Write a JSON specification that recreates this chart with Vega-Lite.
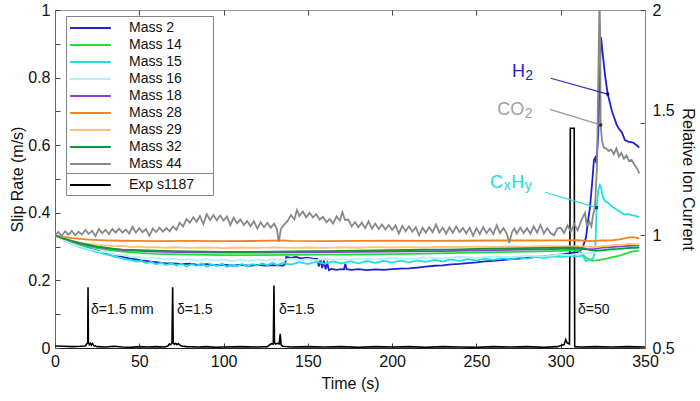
{
  "$schema": "https://vega.github.io/schema/vega-lite/v6.json",
  "width": 590,
  "height": 338,
  "autosize": {"type": "none"},
  "padding": {"left": 55, "top": 10, "right": 55, "bottom": 53},
  "background": "white",
  "config": {
    "font": "Liberation Sans",
    "view": {"stroke": "#999999", "strokeWidth": 1},
    "axis": {
      "grid": false,
      "labelFont": "Liberation Sans",
      "titleFont": "Liberation Sans",
      "labelFontSize": 16,
      "titleFontSize": 16,
      "titleFontWeight": "normal",
      "labelColor": "#111111",
      "titleColor": "#111111",
      "tickColor": "#444444",
      "domainColor": "#555555",
      "tickSize": -5,
      "labelPadding": 10,
      "labelFlush": false
    }
  },
  "datasets": {
    "slip": [
      {"t":0,"v":0.006},{"t":5,"v":0.005},{"t":10,"v":0.004},{"t":15,"v":0.005},{"t":18,"v":0.006},{"t":18.8,"v":0.012},{"t":19.4,"v":0.015},{"t":19.6,"v":0.18},{"t":19.8,"v":0.016},{"t":20.4,"v":0.01},{"t":21,"v":0.014},{"t":21.6,"v":0.009},{"t":22.2,"v":0.013},{"t":23,"v":0.007},{"t":25,"v":0.004},{"t":30,"v":0.003},{"t":35,"v":0.005},{"t":40,"v":0.003},{"t":45,"v":0.002},{"t":50,"v":0.004},{"t":55,"v":0.003},{"t":60,"v":0.004},{"t":65,"v":0.003},{"t":67,"v":0.006},{"t":67.8,"v":0.012},{"t":68.6,"v":0.01},{"t":69.4,"v":0.014},{"t":69.8,"v":0.18},{"t":70.1,"v":0.015},{"t":70.8,"v":0.011},{"t":71.6,"v":0.014},{"t":72.4,"v":0.01},{"t":73.2,"v":0.013},{"t":74,"v":0.009},{"t":75,"v":0.006},{"t":78,"v":0.004},{"t":85,"v":0.003},{"t":90,"v":0.004},{"t":95,"v":0.002},{"t":100,"v":0.003},{"t":110,"v":0.004},{"t":120,"v":0.003},{"t":126,"v":0.004},{"t":127.5,"v":0.01},{"t":128.5,"v":0.013},{"t":129.5,"v":0.012},{"t":129.9,"v":0.185},{"t":130.2,"v":0.016},{"t":131,"v":0.012},{"t":132,"v":0.014},{"t":133,"v":0.012},{"t":133.6,"v":0.042},{"t":134.1,"v":0.01},{"t":135,"v":0.005},{"t":140,"v":0.003},{"t":150,"v":0.004},{"t":160,"v":0.003},{"t":170,"v":0.004},{"t":180,"v":0.002},{"t":190,"v":0.004},{"t":200,"v":0.003},{"t":210,"v":0.004},{"t":220,"v":0.002},{"t":230,"v":0.004},{"t":240,"v":0.003},{"t":250,"v":0.002},{"t":260,"v":0.004},{"t":270,"v":0.003},{"t":280,"v":0.004},{"t":290,"v":0.002},{"t":298,"v":0.004},{"t":302,"v":0.01},{"t":303,"v":0.025},{"t":303.8,"v":0.015},{"t":305.2,"v":0.012},{"t":305.7,"v":0.65},{"t":308.0,"v":0.65},{"t":308.3,"v":0.004},{"t":312,"v":0.003},{"t":320,"v":0.004},{"t":330,"v":0.003},{"t":340,"v":0.004},{"t":350,"v":0.003}
    ],
    "deltas": [
      {"t":21.4,"v":0.112,"txt":"δ=1.5 mm"},
      {"t":72.4,"v":0.112,"txt":"δ=1.5"},
      {"t":132.9,"v":0.112,"txt":"δ=1.5"},
      {"t":310.3,"v":0.112,"txt":"δ=50"}
    ],
    "ion": [
      {"t":0,"s":"Mass 2","v":1.0},{"t":3,"s":"Mass 2","v":0.99},{"t":6,"s":"Mass 2","v":0.98},{"t":9,"s":"Mass 2","v":0.97},{"t":12,"s":"Mass 2","v":0.962},{"t":15,"s":"Mass 2","v":0.955},{"t":18,"s":"Mass 2","v":0.948},{"t":21,"s":"Mass 2","v":0.94},{"t":24,"s":"Mass 2","v":0.934},{"t":27,"s":"Mass 2","v":0.928},{"t":30,"s":"Mass 2","v":0.922},{"t":33,"s":"Mass 2","v":0.917},{"t":36,"s":"Mass 2","v":0.911},{"t":39,"s":"Mass 2","v":0.907},{"t":42,"s":"Mass 2","v":0.901},{"t":45,"s":"Mass 2","v":0.897},{"t":48,"s":"Mass 2","v":0.893},{"t":51,"s":"Mass 2","v":0.889},{"t":54,"s":"Mass 2","v":0.887},{"t":57,"s":"Mass 2","v":0.883},{"t":60,"s":"Mass 2","v":0.881},{"t":65,"s":"Mass 2","v":0.877},{"t":70,"s":"Mass 2","v":0.875},{"t":75,"s":"Mass 2","v":0.872},{"t":80,"s":"Mass 2","v":0.874},{"t":85,"s":"Mass 2","v":0.869},{"t":90,"s":"Mass 2","v":0.872},{"t":95,"s":"Mass 2","v":0.868},{"t":100,"s":"Mass 2","v":0.87},{"t":105,"s":"Mass 2","v":0.866},{"t":110,"s":"Mass 2","v":0.869},{"t":115,"s":"Mass 2","v":0.865},{"t":120,"s":"Mass 2","v":0.869},{"t":125,"s":"Mass 2","v":0.866},{"t":130,"s":"Mass 2","v":0.868},{"t":135,"s":"Mass 2","v":0.866},{"t":136.5,"s":"Mass 2","v":0.871},{"t":137.2,"s":"Mass 2","v":0.905},{"t":140,"s":"Mass 2","v":0.9},{"t":143,"s":"Mass 2","v":0.904},{"t":146,"s":"Mass 2","v":0.898},{"t":150,"s":"Mass 2","v":0.901},{"t":153,"s":"Mass 2","v":0.897},{"t":155.5,"s":"Mass 2","v":0.896},{"t":156.5,"s":"Mass 2","v":0.862},{"t":157.5,"s":"Mass 2","v":0.893},{"t":158.5,"s":"Mass 2","v":0.855},{"t":159.5,"s":"Mass 2","v":0.888},{"t":160.5,"s":"Mass 2","v":0.85},{"t":161.5,"s":"Mass 2","v":0.876},{"t":162.5,"s":"Mass 2","v":0.845},{"t":164,"s":"Mass 2","v":0.851},{"t":167,"s":"Mass 2","v":0.847},{"t":170,"s":"Mass 2","v":0.85},{"t":171.5,"s":"Mass 2","v":0.849},{"t":172.2,"s":"Mass 2","v":0.874},{"t":173,"s":"Mass 2","v":0.85},{"t":176,"s":"Mass 2","v":0.847},{"t":180,"s":"Mass 2","v":0.85},{"t":185,"s":"Mass 2","v":0.846},{"t":190,"s":"Mass 2","v":0.849},{"t":195,"s":"Mass 2","v":0.847},{"t":200,"s":"Mass 2","v":0.85},{"t":205,"s":"Mass 2","v":0.852},{"t":210,"s":"Mass 2","v":0.853},{"t":215,"s":"Mass 2","v":0.857},{"t":220,"s":"Mass 2","v":0.861},{"t":225,"s":"Mass 2","v":0.865},{"t":230,"s":"Mass 2","v":0.867},{"t":235,"s":"Mass 2","v":0.871},{"t":240,"s":"Mass 2","v":0.873},{"t":245,"s":"Mass 2","v":0.877},{"t":250,"s":"Mass 2","v":0.88},{"t":255,"s":"Mass 2","v":0.884},{"t":260,"s":"Mass 2","v":0.887},{"t":265,"s":"Mass 2","v":0.89},{"t":270,"s":"Mass 2","v":0.894},{"t":275,"s":"Mass 2","v":0.897},{"t":280,"s":"Mass 2","v":0.9},{"t":285,"s":"Mass 2","v":0.904},{"t":290,"s":"Mass 2","v":0.907},{"t":295,"s":"Mass 2","v":0.911},{"t":300,"s":"Mass 2","v":0.915},{"t":305,"s":"Mass 2","v":0.92},{"t":310,"s":"Mass 2","v":0.925},{"t":312,"s":"Mass 2","v":0.935},{"t":313.2,"s":"Mass 2","v":0.95},{"t":315,"s":"Mass 2","v":0.99},{"t":316.5,"s":"Mass 2","v":1.08},{"t":317.4,"s":"Mass 2","v":1.126},{"t":318.5,"s":"Mass 2","v":1.22},{"t":319.7,"s":"Mass 2","v":1.334},{"t":320.5,"s":"Mass 2","v":1.345},{"t":321.2,"s":"Mass 2","v":1.32},{"t":322.3,"s":"Mass 2","v":1.45},{"t":323.1,"s":"Mass 2","v":1.72},{"t":323.9,"s":"Mass 2","v":1.88},{"t":325,"s":"Mass 2","v":1.8},{"t":326.3,"s":"Mass 2","v":1.71},{"t":327.9,"s":"Mass 2","v":1.627},{"t":330.2,"s":"Mass 2","v":1.556},{"t":333.2,"s":"Mass 2","v":1.49},{"t":334.8,"s":"Mass 2","v":1.47},{"t":336.4,"s":"Mass 2","v":1.455},{"t":338.1,"s":"Mass 2","v":1.423},{"t":340,"s":"Mass 2","v":1.416},{"t":343,"s":"Mass 2","v":1.412},{"t":345,"s":"Mass 2","v":1.4},{"t":346.6,"s":"Mass 2","v":1.39},
      {"t":0,"s":"Mass 14","v":1.0},{"t":5,"s":"Mass 14","v":0.982},{"t":10,"s":"Mass 14","v":0.968},{"t":15,"s":"Mass 14","v":0.958},{"t":20,"s":"Mass 14","v":0.95},{"t":25,"s":"Mass 14","v":0.943},{"t":30,"s":"Mass 14","v":0.937},{"t":35,"s":"Mass 14","v":0.932},{"t":40,"s":"Mass 14","v":0.928},{"t":50,"s":"Mass 14","v":0.922},{"t":60,"s":"Mass 14","v":0.918},{"t":70,"s":"Mass 14","v":0.916},{"t":80,"s":"Mass 14","v":0.914},{"t":90,"s":"Mass 14","v":0.913},{"t":100,"s":"Mass 14","v":0.912},{"t":120,"s":"Mass 14","v":0.912},{"t":140,"s":"Mass 14","v":0.913},{"t":160,"s":"Mass 14","v":0.914},{"t":180,"s":"Mass 14","v":0.915},{"t":200,"s":"Mass 14","v":0.917},{"t":220,"s":"Mass 14","v":0.919},{"t":240,"s":"Mass 14","v":0.922},{"t":260,"s":"Mass 14","v":0.925},{"t":280,"s":"Mass 14","v":0.928},{"t":300,"s":"Mass 14","v":0.931},{"t":308,"s":"Mass 14","v":0.933},{"t":311,"s":"Mass 14","v":0.932},{"t":313,"s":"Mass 14","v":0.915},{"t":315,"s":"Mass 14","v":0.9},{"t":317,"s":"Mass 14","v":0.892},{"t":319,"s":"Mass 14","v":0.888},{"t":321,"s":"Mass 14","v":0.889},{"t":324,"s":"Mass 14","v":0.892},{"t":327,"s":"Mass 14","v":0.897},{"t":330,"s":"Mass 14","v":0.902},{"t":333,"s":"Mass 14","v":0.907},{"t":336,"s":"Mass 14","v":0.912},{"t":339,"s":"Mass 14","v":0.92},{"t":342,"s":"Mass 14","v":0.928},{"t":346.6,"s":"Mass 14","v":0.932},
      {"t":0,"s":"Mass 15","v":1.0},{"t":3,"s":"Mass 15","v":0.99},{"t":6,"s":"Mass 15","v":0.975},{"t":9,"s":"Mass 15","v":0.965},{"t":12,"s":"Mass 15","v":0.955},{"t":15,"s":"Mass 15","v":0.948},{"t":18,"s":"Mass 15","v":0.94},{"t":21,"s":"Mass 15","v":0.935},{"t":24,"s":"Mass 15","v":0.927},{"t":27,"s":"Mass 15","v":0.923},{"t":30,"s":"Mass 15","v":0.915},{"t":33,"s":"Mass 15","v":0.911},{"t":36,"s":"Mass 15","v":0.903},{"t":39,"s":"Mass 15","v":0.9},{"t":42,"s":"Mass 15","v":0.893},{"t":45,"s":"Mass 15","v":0.891},{"t":48,"s":"Mass 15","v":0.884},{"t":51,"s":"Mass 15","v":0.886},{"t":54,"s":"Mass 15","v":0.877},{"t":57,"s":"Mass 15","v":0.882},{"t":60,"s":"Mass 15","v":0.872},{"t":63,"s":"Mass 15","v":0.879},{"t":66,"s":"Mass 15","v":0.868},{"t":69,"s":"Mass 15","v":0.876},{"t":72,"s":"Mass 15","v":0.866},{"t":75,"s":"Mass 15","v":0.874},{"t":78,"s":"Mass 15","v":0.862},{"t":81,"s":"Mass 15","v":0.872},{"t":84,"s":"Mass 15","v":0.865},{"t":87,"s":"Mass 15","v":0.876},{"t":90,"s":"Mass 15","v":0.861},{"t":93,"s":"Mass 15","v":0.871},{"t":96,"s":"Mass 15","v":0.864},{"t":99,"s":"Mass 15","v":0.874},{"t":102,"s":"Mass 15","v":0.86},{"t":105,"s":"Mass 15","v":0.87},{"t":108,"s":"Mass 15","v":0.863},{"t":111,"s":"Mass 15","v":0.873},{"t":114,"s":"Mass 15","v":0.862},{"t":117,"s":"Mass 15","v":0.872},{"t":120,"s":"Mass 15","v":0.866},{"t":123,"s":"Mass 15","v":0.876},{"t":126,"s":"Mass 15","v":0.867},{"t":129,"s":"Mass 15","v":0.878},{"t":132,"s":"Mass 15","v":0.868},{"t":135,"s":"Mass 15","v":0.877},{"t":140,"s":"Mass 15","v":0.87},{"t":145,"s":"Mass 15","v":0.881},{"t":150,"s":"Mass 15","v":0.872},{"t":155,"s":"Mass 15","v":0.883},{"t":160,"s":"Mass 15","v":0.874},{"t":165,"s":"Mass 15","v":0.884},{"t":170,"s":"Mass 15","v":0.875},{"t":175,"s":"Mass 15","v":0.885},{"t":180,"s":"Mass 15","v":0.876},{"t":185,"s":"Mass 15","v":0.886},{"t":190,"s":"Mass 15","v":0.878},{"t":195,"s":"Mass 15","v":0.887},{"t":200,"s":"Mass 15","v":0.879},{"t":205,"s":"Mass 15","v":0.888},{"t":210,"s":"Mass 15","v":0.88},{"t":215,"s":"Mass 15","v":0.889},{"t":220,"s":"Mass 15","v":0.882},{"t":225,"s":"Mass 15","v":0.891},{"t":230,"s":"Mass 15","v":0.884},{"t":235,"s":"Mass 15","v":0.893},{"t":240,"s":"Mass 15","v":0.886},{"t":245,"s":"Mass 15","v":0.895},{"t":250,"s":"Mass 15","v":0.888},{"t":255,"s":"Mass 15","v":0.897},{"t":260,"s":"Mass 15","v":0.891},{"t":265,"s":"Mass 15","v":0.899},{"t":270,"s":"Mass 15","v":0.893},{"t":275,"s":"Mass 15","v":0.902},{"t":280,"s":"Mass 15","v":0.896},{"t":285,"s":"Mass 15","v":0.904},{"t":290,"s":"Mass 15","v":0.899},{"t":295,"s":"Mass 15","v":0.907},{"t":300,"s":"Mass 15","v":0.903},{"t":305,"s":"Mass 15","v":0.91},{"t":310,"s":"Mass 15","v":0.906},{"t":313,"s":"Mass 15","v":0.91},{"t":315,"s":"Mass 15","v":0.885},{"t":317,"s":"Mass 15","v":0.892},{"t":319,"s":"Mass 15","v":0.895},{"t":320.5,"s":"Mass 15","v":0.93},{"t":321.3,"s":"Mass 15","v":1.123},{"t":322.3,"s":"Mass 15","v":1.2},{"t":323.2,"s":"Mass 15","v":1.223},{"t":323.8,"s":"Mass 15","v":1.215},{"t":325.1,"s":"Mass 15","v":1.166},{"t":326.5,"s":"Mass 15","v":1.15},{"t":328,"s":"Mass 15","v":1.145},{"t":330,"s":"Mass 15","v":1.13},{"t":332,"s":"Mass 15","v":1.12},{"t":334,"s":"Mass 15","v":1.11},{"t":336,"s":"Mass 15","v":1.1},{"t":338,"s":"Mass 15","v":1.092},{"t":340,"s":"Mass 15","v":1.095},{"t":342,"s":"Mass 15","v":1.09},{"t":344,"s":"Mass 15","v":1.087},{"t":346.6,"s":"Mass 15","v":1.08},
      {"t":0,"s":"Mass 16","v":1.0},{"t":5,"s":"Mass 16","v":0.98},{"t":10,"s":"Mass 16","v":0.962},{"t":15,"s":"Mass 16","v":0.95},{"t":20,"s":"Mass 16","v":0.94},{"t":25,"s":"Mass 16","v":0.93},{"t":30,"s":"Mass 16","v":0.925},{"t":35,"s":"Mass 16","v":0.915},{"t":40,"s":"Mass 16","v":0.912},{"t":45,"s":"Mass 16","v":0.905},{"t":50,"s":"Mass 16","v":0.903},{"t":55,"s":"Mass 16","v":0.898},{"t":60,"s":"Mass 16","v":0.9},{"t":65,"s":"Mass 16","v":0.893},{"t":70,"s":"Mass 16","v":0.897},{"t":75,"s":"Mass 16","v":0.89},{"t":80,"s":"Mass 16","v":0.894},{"t":85,"s":"Mass 16","v":0.888},{"t":90,"s":"Mass 16","v":0.895},{"t":95,"s":"Mass 16","v":0.887},{"t":100,"s":"Mass 16","v":0.893},{"t":105,"s":"Mass 16","v":0.886},{"t":110,"s":"Mass 16","v":0.892},{"t":115,"s":"Mass 16","v":0.887},{"t":120,"s":"Mass 16","v":0.893},{"t":125,"s":"Mass 16","v":0.888},{"t":130,"s":"Mass 16","v":0.894},{"t":135,"s":"Mass 16","v":0.889},{"t":140,"s":"Mass 16","v":0.896},{"t":145,"s":"Mass 16","v":0.89},{"t":150,"s":"Mass 16","v":0.895},{"t":155,"s":"Mass 16","v":0.889},{"t":160,"s":"Mass 16","v":0.896},{"t":165,"s":"Mass 16","v":0.891},{"t":170,"s":"Mass 16","v":0.897},{"t":175,"s":"Mass 16","v":0.891},{"t":180,"s":"Mass 16","v":0.898},{"t":190,"s":"Mass 16","v":0.893},{"t":200,"s":"Mass 16","v":0.9},{"t":210,"s":"Mass 16","v":0.895},{"t":220,"s":"Mass 16","v":0.902},{"t":230,"s":"Mass 16","v":0.898},{"t":240,"s":"Mass 16","v":0.905},{"t":250,"s":"Mass 16","v":0.9},{"t":260,"s":"Mass 16","v":0.907},{"t":270,"s":"Mass 16","v":0.903},{"t":280,"s":"Mass 16","v":0.91},{"t":290,"s":"Mass 16","v":0.907},{"t":300,"s":"Mass 16","v":0.915},{"t":305,"s":"Mass 16","v":0.912},{"t":310,"s":"Mass 16","v":0.918},{"t":315,"s":"Mass 16","v":0.92},{"t":320,"s":"Mass 16","v":0.925},{"t":325,"s":"Mass 16","v":0.93},{"t":330,"s":"Mass 16","v":0.935},{"t":335,"s":"Mass 16","v":0.938},{"t":340,"s":"Mass 16","v":0.942},{"t":346.6,"s":"Mass 16","v":0.945},
      {"t":0,"s":"Mass 18","v":1.0},{"t":10,"s":"Mass 18","v":0.972},{"t":20,"s":"Mass 18","v":0.955},{"t":30,"s":"Mass 18","v":0.943},{"t":40,"s":"Mass 18","v":0.935},{"t":60,"s":"Mass 18","v":0.928},{"t":80,"s":"Mass 18","v":0.925},{"t":100,"s":"Mass 18","v":0.923},{"t":120,"s":"Mass 18","v":0.923},{"t":150,"s":"Mass 18","v":0.925},{"t":180,"s":"Mass 18","v":0.927},{"t":200,"s":"Mass 18","v":0.928},{"t":230,"s":"Mass 18","v":0.93},{"t":260,"s":"Mass 18","v":0.934},{"t":290,"s":"Mass 18","v":0.938},{"t":300,"s":"Mass 18","v":0.94},{"t":310,"s":"Mass 18","v":0.94},{"t":315,"s":"Mass 18","v":0.938},{"t":320,"s":"Mass 18","v":0.94},{"t":325,"s":"Mass 18","v":0.945},{"t":330,"s":"Mass 18","v":0.948},{"t":340,"s":"Mass 18","v":0.953},{"t":346.6,"s":"Mass 18","v":0.955},
      {"t":0,"s":"Mass 28","v":1.0},{"t":5,"s":"Mass 28","v":0.993},{"t":10,"s":"Mass 28","v":0.988},{"t":15,"s":"Mass 28","v":0.984},{"t":20,"s":"Mass 28","v":0.981},{"t":30,"s":"Mass 28","v":0.978},{"t":40,"s":"Mass 28","v":0.976},{"t":50,"s":"Mass 28","v":0.975},{"t":60,"s":"Mass 28","v":0.974},{"t":80,"s":"Mass 28","v":0.975},{"t":100,"s":"Mass 28","v":0.974},{"t":120,"s":"Mass 28","v":0.975},{"t":135,"s":"Mass 28","v":0.978},{"t":140,"s":"Mass 28","v":0.975},{"t":160,"s":"Mass 28","v":0.974},{"t":180,"s":"Mass 28","v":0.975},{"t":200,"s":"Mass 28","v":0.976},{"t":220,"s":"Mass 28","v":0.975},{"t":240,"s":"Mass 28","v":0.976},{"t":260,"s":"Mass 28","v":0.977},{"t":280,"s":"Mass 28","v":0.977},{"t":300,"s":"Mass 28","v":0.978},{"t":310,"s":"Mass 28","v":0.979},{"t":314,"s":"Mass 28","v":0.976},{"t":319,"s":"Mass 28","v":0.974},{"t":324,"s":"Mass 28","v":0.977},{"t":330,"s":"Mass 28","v":0.978},{"t":335,"s":"Mass 28","v":0.982},{"t":340,"s":"Mass 28","v":0.99},{"t":343,"s":"Mass 28","v":0.992},{"t":346.6,"s":"Mass 28","v":0.987},
      {"t":0,"s":"Mass 29","v":1.0},{"t":5,"s":"Mass 29","v":0.985},{"t":10,"s":"Mass 29","v":0.975},{"t":15,"s":"Mass 29","v":0.967},{"t":20,"s":"Mass 29","v":0.962},{"t":25,"s":"Mass 29","v":0.958},{"t":30,"s":"Mass 29","v":0.955},{"t":35,"s":"Mass 29","v":0.952},{"t":40,"s":"Mass 29","v":0.953},{"t":45,"s":"Mass 29","v":0.948},{"t":50,"s":"Mass 29","v":0.95},{"t":55,"s":"Mass 29","v":0.946},{"t":60,"s":"Mass 29","v":0.948},{"t":65,"s":"Mass 29","v":0.944},{"t":70,"s":"Mass 29","v":0.947},{"t":80,"s":"Mass 29","v":0.944},{"t":90,"s":"Mass 29","v":0.946},{"t":100,"s":"Mass 29","v":0.943},{"t":110,"s":"Mass 29","v":0.946},{"t":120,"s":"Mass 29","v":0.944},{"t":130,"s":"Mass 29","v":0.947},{"t":140,"s":"Mass 29","v":0.944},{"t":150,"s":"Mass 29","v":0.946},{"t":160,"s":"Mass 29","v":0.944},{"t":170,"s":"Mass 29","v":0.947},{"t":180,"s":"Mass 29","v":0.945},{"t":190,"s":"Mass 29","v":0.948},{"t":200,"s":"Mass 29","v":0.946},{"t":210,"s":"Mass 29","v":0.948},{"t":220,"s":"Mass 29","v":0.947},{"t":230,"s":"Mass 29","v":0.949},{"t":240,"s":"Mass 29","v":0.948},{"t":250,"s":"Mass 29","v":0.95},{"t":260,"s":"Mass 29","v":0.949},{"t":270,"s":"Mass 29","v":0.951},{"t":280,"s":"Mass 29","v":0.95},{"t":290,"s":"Mass 29","v":0.952},{"t":300,"s":"Mass 29","v":0.951},{"t":310,"s":"Mass 29","v":0.952},{"t":315,"s":"Mass 29","v":0.95},{"t":320,"s":"Mass 29","v":0.948},{"t":325,"s":"Mass 29","v":0.952},{"t":330,"s":"Mass 29","v":0.955},{"t":335,"s":"Mass 29","v":0.957},{"t":340,"s":"Mass 29","v":0.962},{"t":346.6,"s":"Mass 29","v":0.96},
      {"t":0,"s":"Mass 32","v":1.0},{"t":5,"s":"Mass 32","v":0.985},{"t":10,"s":"Mass 32","v":0.975},{"t":15,"s":"Mass 32","v":0.965},{"t":20,"s":"Mass 32","v":0.958},{"t":25,"s":"Mass 32","v":0.95},{"t":30,"s":"Mass 32","v":0.945},{"t":35,"s":"Mass 32","v":0.94},{"t":40,"s":"Mass 32","v":0.937},{"t":50,"s":"Mass 32","v":0.934},{"t":60,"s":"Mass 32","v":0.932},{"t":70,"s":"Mass 32","v":0.93},{"t":80,"s":"Mass 32","v":0.929},{"t":90,"s":"Mass 32","v":0.928},{"t":100,"s":"Mass 32","v":0.927},{"t":110,"s":"Mass 32","v":0.926},{"t":120,"s":"Mass 32","v":0.927},{"t":130,"s":"Mass 32","v":0.928},{"t":140,"s":"Mass 32","v":0.929},{"t":150,"s":"Mass 32","v":0.93},{"t":160,"s":"Mass 32","v":0.93},{"t":170,"s":"Mass 32","v":0.931},{"t":180,"s":"Mass 32","v":0.932},{"t":190,"s":"Mass 32","v":0.933},{"t":200,"s":"Mass 32","v":0.934},{"t":210,"s":"Mass 32","v":0.935},{"t":220,"s":"Mass 32","v":0.936},{"t":230,"s":"Mass 32","v":0.937},{"t":240,"s":"Mass 32","v":0.938},{"t":250,"s":"Mass 32","v":0.94},{"t":260,"s":"Mass 32","v":0.941},{"t":270,"s":"Mass 32","v":0.942},{"t":280,"s":"Mass 32","v":0.943},{"t":290,"s":"Mass 32","v":0.944},{"t":300,"s":"Mass 32","v":0.945},{"t":305,"s":"Mass 32","v":0.946},{"t":310,"s":"Mass 32","v":0.945},{"t":314,"s":"Mass 32","v":0.942},{"t":317,"s":"Mass 32","v":0.935},{"t":321,"s":"Mass 32","v":0.932},{"t":325,"s":"Mass 32","v":0.934},{"t":329,"s":"Mass 32","v":0.938},{"t":334,"s":"Mass 32","v":0.94},{"t":339,"s":"Mass 32","v":0.943},{"t":346.6,"s":"Mass 32","v":0.946},
      {"t":0,"s":"Mass 44","v":1.0},{"t":2,"s":"Mass 44","v":1.015},{"t":4,"s":"Mass 44","v":0.998},{"t":6,"s":"Mass 44","v":1.018},{"t":8,"s":"Mass 44","v":1.003},{"t":10,"s":"Mass 44","v":1.02},{"t":12,"s":"Mass 44","v":1.0},{"t":14,"s":"Mass 44","v":1.016},{"t":16,"s":"Mass 44","v":1.004},{"t":18,"s":"Mass 44","v":1.024},{"t":20,"s":"Mass 44","v":1.006},{"t":22,"s":"Mass 44","v":1.02},{"t":24,"s":"Mass 44","v":0.996},{"t":26,"s":"Mass 44","v":1.028},{"t":28,"s":"Mass 44","v":1.01},{"t":30,"s":"Mass 44","v":1.024},{"t":32,"s":"Mass 44","v":1.006},{"t":34,"s":"Mass 44","v":1.028},{"t":36,"s":"Mass 44","v":1.012},{"t":38,"s":"Mass 44","v":1.03},{"t":40,"s":"Mass 44","v":1.012},{"t":42,"s":"Mass 44","v":1.026},{"t":44,"s":"Mass 44","v":1.008},{"t":46,"s":"Mass 44","v":1.038},{"t":48,"s":"Mass 44","v":1.012},{"t":50,"s":"Mass 44","v":1.032},{"t":52,"s":"Mass 44","v":1.014},{"t":54,"s":"Mass 44","v":1.028},{"t":56,"s":"Mass 44","v":0.998},{"t":58,"s":"Mass 44","v":1.03},{"t":60,"s":"Mass 44","v":1.014},{"t":62,"s":"Mass 44","v":1.034},{"t":64,"s":"Mass 44","v":1.016},{"t":66,"s":"Mass 44","v":1.032},{"t":68,"s":"Mass 44","v":1.018},{"t":70,"s":"Mass 44","v":1.04},{"t":72,"s":"Mass 44","v":1.024},{"t":74,"s":"Mass 44","v":1.056},{"t":76,"s":"Mass 44","v":1.04},{"t":78,"s":"Mass 44","v":1.072},{"t":80,"s":"Mass 44","v":1.056},{"t":82,"s":"Mass 44","v":1.08},{"t":84,"s":"Mass 44","v":1.06},{"t":86,"s":"Mass 44","v":1.086},{"t":88,"s":"Mass 44","v":1.05},{"t":90,"s":"Mass 44","v":1.094},{"t":92,"s":"Mass 44","v":1.068},{"t":94,"s":"Mass 44","v":1.09},{"t":96,"s":"Mass 44","v":1.066},{"t":98,"s":"Mass 44","v":1.088},{"t":100,"s":"Mass 44","v":1.066},{"t":102,"s":"Mass 44","v":1.084},{"t":104,"s":"Mass 44","v":1.045},{"t":106,"s":"Mass 44","v":1.078},{"t":108,"s":"Mass 44","v":1.054},{"t":110,"s":"Mass 44","v":1.07},{"t":112,"s":"Mass 44","v":1.046},{"t":114,"s":"Mass 44","v":1.064},{"t":116,"s":"Mass 44","v":1.04},{"t":118,"s":"Mass 44","v":1.062},{"t":120,"s":"Mass 44","v":1.03},{"t":122,"s":"Mass 44","v":1.058},{"t":124,"s":"Mass 44","v":1.036},{"t":126,"s":"Mass 44","v":1.056},{"t":128,"s":"Mass 44","v":1.034},{"t":130,"s":"Mass 44","v":1.052},{"t":131.5,"s":"Mass 44","v":1.03},{"t":132.8,"s":"Mass 44","v":0.972},{"t":134,"s":"Mass 44","v":1.028},{"t":136,"s":"Mass 44","v":1.048},{"t":138,"s":"Mass 44","v":1.064},{"t":140,"s":"Mass 44","v":1.09},{"t":142,"s":"Mass 44","v":1.07},{"t":143.5,"s":"Mass 44","v":1.112},{"t":145,"s":"Mass 44","v":1.086},{"t":147,"s":"Mass 44","v":1.106},{"t":149,"s":"Mass 44","v":1.08},{"t":151,"s":"Mass 44","v":1.1},{"t":153,"s":"Mass 44","v":1.08},{"t":155,"s":"Mass 44","v":1.094},{"t":157,"s":"Mass 44","v":1.07},{"t":159,"s":"Mass 44","v":1.082},{"t":161,"s":"Mass 44","v":1.058},{"t":163,"s":"Mass 44","v":1.072},{"t":165,"s":"Mass 44","v":1.052},{"t":167,"s":"Mass 44","v":1.084},{"t":169,"s":"Mass 44","v":1.065},{"t":170.5,"s":"Mass 44","v":1.102},{"t":172,"s":"Mass 44","v":1.068},{"t":174,"s":"Mass 44","v":1.07},{"t":176,"s":"Mass 44","v":1.04},{"t":178,"s":"Mass 44","v":1.058},{"t":180,"s":"Mass 44","v":1.036},{"t":182,"s":"Mass 44","v":1.056},{"t":184,"s":"Mass 44","v":1.032},{"t":186,"s":"Mass 44","v":1.062},{"t":188,"s":"Mass 44","v":1.03},{"t":190,"s":"Mass 44","v":1.052},{"t":192,"s":"Mass 44","v":1.028},{"t":194,"s":"Mass 44","v":1.048},{"t":196,"s":"Mass 44","v":1.026},{"t":198,"s":"Mass 44","v":1.046},{"t":200,"s":"Mass 44","v":1.024},{"t":202,"s":"Mass 44","v":1.044},{"t":204,"s":"Mass 44","v":1.008},{"t":206,"s":"Mass 44","v":1.042},{"t":208,"s":"Mass 44","v":1.018},{"t":210,"s":"Mass 44","v":1.04},{"t":212,"s":"Mass 44","v":1.016},{"t":214,"s":"Mass 44","v":1.036},{"t":216,"s":"Mass 44","v":1.0},{"t":218,"s":"Mass 44","v":1.034},{"t":220,"s":"Mass 44","v":1.012},{"t":222,"s":"Mass 44","v":1.036},{"t":224,"s":"Mass 44","v":1.014},{"t":226,"s":"Mass 44","v":1.048},{"t":228,"s":"Mass 44","v":1.012},{"t":230,"s":"Mass 44","v":1.034},{"t":232,"s":"Mass 44","v":1.008},{"t":234,"s":"Mass 44","v":1.036},{"t":236,"s":"Mass 44","v":1.012},{"t":238,"s":"Mass 44","v":1.04},{"t":240,"s":"Mass 44","v":1.014},{"t":242,"s":"Mass 44","v":1.032},{"t":244,"s":"Mass 44","v":1.008},{"t":246,"s":"Mass 44","v":1.034},{"t":248,"s":"Mass 44","v":0.998},{"t":250,"s":"Mass 44","v":1.032},{"t":252,"s":"Mass 44","v":1.006},{"t":254,"s":"Mass 44","v":1.036},{"t":256,"s":"Mass 44","v":1.01},{"t":258,"s":"Mass 44","v":1.03},{"t":260,"s":"Mass 44","v":1.006},{"t":262,"s":"Mass 44","v":1.044},{"t":264,"s":"Mass 44","v":1.01},{"t":266,"s":"Mass 44","v":1.032},{"t":268,"s":"Mass 44","v":1.008},{"t":269.5,"s":"Mass 44","v":0.966},{"t":271,"s":"Mass 44","v":1.012},{"t":272.5,"s":"Mass 44","v":1.03},{"t":274,"s":"Mass 44","v":1.008},{"t":276,"s":"Mass 44","v":1.034},{"t":278,"s":"Mass 44","v":1.01},{"t":280,"s":"Mass 44","v":1.032},{"t":282,"s":"Mass 44","v":1.008},{"t":284,"s":"Mass 44","v":1.04},{"t":286,"s":"Mass 44","v":1.012},{"t":288,"s":"Mass 44","v":1.046},{"t":290,"s":"Mass 44","v":1.008},{"t":292,"s":"Mass 44","v":1.032},{"t":294,"s":"Mass 44","v":1.01},{"t":296,"s":"Mass 44","v":1.0},{"t":298,"s":"Mass 44","v":1.03},{"t":300,"s":"Mass 44","v":1.034},{"t":302,"s":"Mass 44","v":1.01},{"t":304,"s":"Mass 44","v":1.044},{"t":306,"s":"Mass 44","v":1.016},{"t":308,"s":"Mass 44","v":1.05},{"t":310,"s":"Mass 44","v":1.022},{"t":312,"s":"Mass 44","v":1.062},{"t":314.4,"s":"Mass 44","v":1.1},{"t":315.5,"s":"Mass 44","v":1.045},{"t":317,"s":"Mass 44","v":1.06},{"t":318.2,"s":"Mass 44","v":1.04},{"t":319.2,"s":"Mass 44","v":1.09},{"t":320.3,"s":"Mass 44","v":1.126},{"t":321.5,"s":"Mass 44","v":1.3},{"t":322.4,"s":"Mass 44","v":1.75},{"t":323.0,"s":"Mass 44","v":2.05},{"t":323.4,"s":"Mass 44","v":1.9},{"t":323.7,"s":"Mass 44","v":1.49},{"t":324.5,"s":"Mass 44","v":1.42},{"t":325.5,"s":"Mass 44","v":1.39},{"t":327,"s":"Mass 44","v":1.385},{"t":328.5,"s":"Mass 44","v":1.375},{"t":330,"s":"Mass 44","v":1.38},{"t":331.5,"s":"Mass 44","v":1.36},{"t":333,"s":"Mass 44","v":1.385},{"t":334.5,"s":"Mass 44","v":1.35},{"t":336,"s":"Mass 44","v":1.365},{"t":337.5,"s":"Mass 44","v":1.34},{"t":339,"s":"Mass 44","v":1.355},{"t":340.5,"s":"Mass 44","v":1.33},{"t":342,"s":"Mass 44","v":1.335},{"t":344,"s":"Mass 44","v":1.31},{"t":345.5,"s":"Mass 44","v":1.295},{"t":346.6,"s":"Mass 44","v":1.275}
    ],
    "pointers": [
      {"who":"H2","t":294.1,"v":1.697,"t2":327.9,"v2":1.627},
      {"who":"CO2","t":293.6,"v":1.559,"t2":323.7,"v2":1.49},
      {"who":"CxHy","t":290.7,"v":1.191,"t2":321.3,"v2":1.123}
    ],
    "dots": [
      {"who":"H2","t":327.9,"v":1.627},
      {"who":"CO2","t":323.7,"v":1.49},
      {"who":"CxHy","t":321.3,"v":1.123}
    ],
    "chem": [
      {"who":"H2","kind":"main","txt":"H","t":271.1,"v":1.703},
      {"who":"H2","kind":"sub","txt":"2","t":279.0,"v":1.689},
      {"who":"CO2","kind":"main","txt":"CO","t":262.4,"v":1.534},
      {"who":"CO2","kind":"sub","txt":"2","t":278.6,"v":1.519},
      {"who":"CxHy","kind":"main","txt":"C","t":258.1,"v":1.209},
      {"who":"CxHy","kind":"sub","txt":"x","t":266.2,"v":1.199},
      {"who":"CxHy","kind":"main","txt":"H","t":270.6,"v":1.209},
      {"who":"CxHy","kind":"sub","txt":"y","t":278.6,"v":1.199}
    ]
  },
  "layer": [
    {
      "encoding": {
        "x": {"field": "t", "type": "quantitative", "title": "Time (s)", "scale": {"domain": [0, 350], "nice": false, "zero": false},
          "axis": {"orient": "bottom", "values": [0, 50, 100, 150, 200, 250, 300, 350], "format": "d", "domainColor": "#222222", "titlePadding": 6}},
        "y": {"field": "v", "type": "quantitative", "title": "Slip Rate (m/s)", "scale": {"domain": [0, 1], "nice": false},
          "axis": {"orient": "left", "values": [0, 0.1, 0.2, 0.3, 0.4, 0.5, 0.6, 0.7, 0.8, 0.9, 1], "format": ".1~f", "labelExpr": "round(datum.value*10) % 2 == 0 ? datum.label : ''", "domainColor": "#666666", "titlePadding": 2}}
      },
      "layer": [
        {
          "data": {"name": "slip"},
          "mark": {"type": "line", "strokeWidth": 1.6, "clip": true},
          "encoding": {
            "stroke": {"datum": "Exp s1187", "type": "nominal",
              "scale": {"domain": ["Exp s1187"], "range": ["#000000"]},
              "legend": {"orient": "none", "legendX": 11, "legendY": 163, "title": null, "strokeColor": "#888888", "fillColor": "white", "padding": 3,
                "symbolType": "M-1,0H4.1", "symbolSize": 256, "symbolStrokeWidth": 2, "labelFontSize": 14, "labelFont": "Liberation Sans", "labelColor": "#111111", "labelOffset": 42,
                "labelExpr": "datum.label + '\u00a0\u00a0\u00a0\u00a0\u200b'"}}
          }
        },
        {
          "data": {"name": "deltas"},
          "mark": {"type": "text", "align": "left", "baseline": "middle", "fontSize": 14, "font": "Liberation Sans", "color": "#111111"},
          "encoding": {"text": {"field": "txt", "type": "nominal"}}
        }
      ]
    },
    {
      "encoding": {
        "x": {"field": "t", "type": "quantitative", "title": "Time (s)", "scale": {"domain": [0, 350], "nice": false, "zero": false},
          "axis": {"orient": "top", "values": [0, 50, 100, 150, 200, 250, 300, 350], "labels": false, "title": null, "domain": false}},
        "y": {"field": "v", "type": "quantitative", "title": "Relative Ion Current", "scale": {"domain": [0.5, 2], "nice": false, "zero": false},
          "axis": {"orient": "right", "values": [0.5, 1, 1.5, 2], "format": ".1~f", "labelPadding": 12, "domainColor": "#888888", "titlePadding": 5,
            "labelOffset": {"condition": {"test": "datum.value == 1.5", "value": -12}, "value": 0}}}
      },
      "layer": [
        {
          "data": {"name": "ion"},
          "mark": {"type": "line", "strokeWidth": 1.8, "clip": true},
          "encoding": {
            "color": {"field": "s", "type": "nominal",
              "scale": {"domain": ["Mass 2", "Mass 14", "Mass 15", "Mass 16", "Mass 18", "Mass 28", "Mass 29", "Mass 32", "Mass 44"],
                "range": ["#1f1fd6", "#20df3a", "#1fe0e0", "#b3f2fb", "#9a3ad6", "#f58220", "#ffc27a", "#0a9a3a", "#888888"]},
              "legend": {"orient": "none", "legendX": 11, "legendY": 6, "title": null, "strokeColor": "#888888", "fillColor": "white", "padding": 3,
                "symbolType": "M-1,0H4.1", "symbolSize": 256, "symbolStrokeWidth": 2, "labelFontSize": 14, "labelFont": "Liberation Sans", "labelColor": "#111111", "labelOffset": 42, "rowPadding": 1,
                "labelExpr": "datum.label + '\u00a0\u00a0\u00a0\u00a0\u00a0\u00a0\u00a0\u200b'"}}
          }
        },
        {
          "data": {"name": "pointers"},
          "mark": {"type": "rule", "strokeWidth": 1.2},
          "encoding": {
            "x2": {"field": "t2"},
            "y2": {"field": "v2"},
            "stroke": {"field": "who", "type": "nominal", "scale": {"domain": ["H2", "CO2", "CxHy"], "range": ["#2a2ad8", "#999999", "#22dddd"]}, "legend": null}
          }
        },
        {
          "data": {"name": "dots"},
          "mark": {"type": "square", "size": 10, "color": "#000000", "filled": true}
        },
        {
          "data": {"name": "chem"},
          "transform": [{"filter": "datum.kind == 'main'"}],
          "mark": {"type": "text", "align": "left", "baseline": "alphabetic", "fontSize": 18, "font": "Liberation Sans"},
          "encoding": {
            "text": {"field": "txt", "type": "nominal"},
            "fill": {"field": "who", "type": "nominal", "scale": {"domain": ["H2", "CO2", "CxHy"], "range": ["#2020d0", "#a0a0a0", "#22dddd"]}, "legend": null}
          }
        },
        {
          "data": {"name": "chem"},
          "transform": [{"filter": "datum.kind == 'sub'"}],
          "mark": {"type": "text", "align": "left", "baseline": "alphabetic", "fontSize": 14, "font": "Liberation Sans"},
          "encoding": {
            "text": {"field": "txt", "type": "nominal"},
            "fill": {"field": "who", "type": "nominal", "scale": {"domain": ["H2", "CO2", "CxHy"], "range": ["#2020d0", "#a0a0a0", "#22dddd"]}, "legend": null}
          }
        }
      ]
    }
  ],
  "resolve": {"scale": {"y": "independent", "stroke": "independent"}, "axis": {"x": "independent"}, "legend": {"stroke": "independent"}}
}
